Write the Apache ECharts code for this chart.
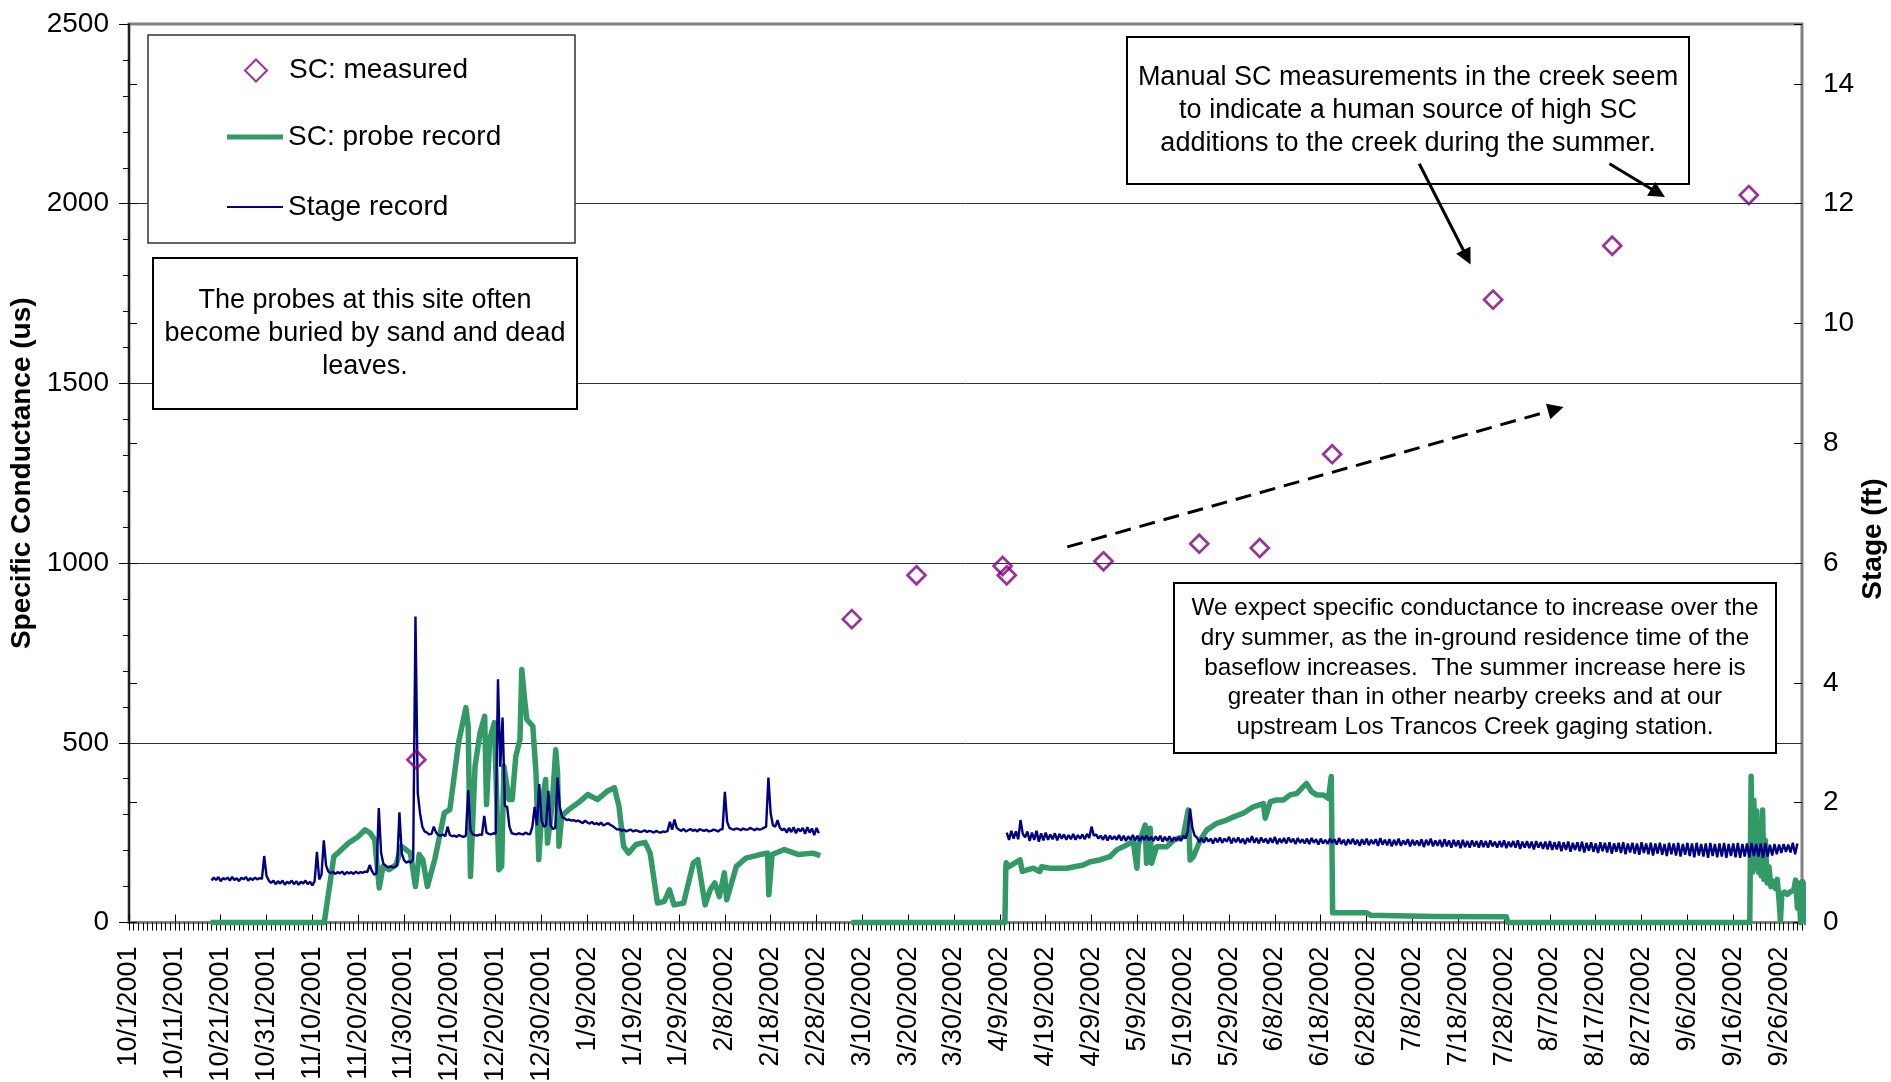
<!DOCTYPE html>
<html>
<head>
<meta charset="utf-8">
<title>Specific conductance and stage, WY2002</title>
<script src="https://cdn.jsdelivr.net/npm/echarts@6/dist/echarts.min.js"></script>
<style>
  html, body { margin: 0; padding: 0; background: #ffffff; }
  #chart { width: 1891px; height: 1082px; }
</style>
</head>
<body>
<div id="chart"></div>
<script>
// x values are days since 10/1/2001 (start of the water year)
const RECORD_START = Date.UTC(2001, 9, 1);

// Manual specific conductance measurements (us)
const measuredDays = [62.7, 157.7, 171.8, 190.6, 191.5, 212.6, 233.5, 246.7, 262.5, 297.6, 323.6, 353.4];
const measuredSC   = [453, 844, 966, 992, 966, 1005, 1054, 1042, 1303, 1733, 1883, 2024];

// Probe SC record, [day, us]; two deployments
const probeSeg1 = [
  [17.8,0],[42.6,0],[44.7,184],[45.8,196],[47.9,221],[49.9,238],[51.5,258],[52.6,249],[53.6,230],[54.6,96],
  [55.4,156],[56.7,147],[58.3,161],[59.4,212],[60.4,203],[61.4,193],[62.5,100],[63.3,189],[64.1,175],[65.1,100],
  [66.7,175],[67.9,249],[68.8,305],[70.0,314],[71.9,500],[73.5,598],[74.0,546],[74.5,128],[75.5,435],[76.6,528],
  [77.6,574],[78.0,328],[78.7,509],[79.7,556],[80.0,560],[80.7,147],[81.3,156],[81.8,435],[82.3,393],[82.9,342],
  [83.6,342],[84.4,463],[85.3,509],[85.7,704],[86.3,621],[86.8,565],[88.1,546],[88.8,416],[89.4,175],[90.2,342],
  [90.9,398],[91.3,221],[92.3,323],[93.1,481],[93.5,416],[93.8,212],[94.4,296],[95.9,314],[98.0,333],[100.1,356],
  [102.2,342],[104.3,365],[105.9,375],[106.9,323],[107.9,212],[109.0,193],[110.6,217],[112.6,223],[113.7,193],[115.3,54],
  [116.8,59],[117.9,91],[118.9,49],[121.0,54],[123.1,165],[124.1,175],[125.7,49],[126.8,91],[127.8,110],[128.8,72],
  [129.9,138],[130.4,63],[132.5,156],[134.6,179],[137.7,189],[139.3,193],[139.6,77],[140.3,189],[143.0,203],[146.1,189],
  [149.2,193],[150.8,186]
];
const probeSeg2 = [
  [157.6,0],[191.1,0],[191.3,155],[191.4,166],[191.9,155],[194.4,174],[194.9,142],[197.3,151],[198.7,142],[199.1,155],
  [200.9,151],[204.6,151],[208.2,160],[209.7,169],[211.8,174],[214.0,183],[215.5,202],[217.7,216],[219.1,225],[219.9,151],
  [220.2,216],[221.7,271],[222.0,165],[222.8,262],[223.1,165],[224.2,211],[226.4,211],[227.9,229],[230.0,239],[231.1,313],
  [231.5,174],[232.2,183],[233.7,229],[235.1,257],[237.3,276],[239.5,285],[241.0,294],[243.1,304],[245.3,322],[247.5,331],
  [247.9,290],[249.0,336],[250.4,341],[251.9,341],[253.3,355],[254.8,359],[256.2,378],[256.9,387],[258.0,364],[259.1,355],
  [260.6,355],[261.7,345],[262.3,406],[262.6,27],[270.0,27],[271.0,20],[285.0,17],[300.5,16],[300.8,0],[353.6,0],
  [353.9,407],[354.2,140],[354.5,340],[354.8,150],[355.1,310],[355.5,140],[355.8,266],[356.1,130],[356.4,313],[356.7,120],
  [357.0,229],[357.4,110],[357.8,155],[358.2,100],[358.7,115],[359.2,95],[359.6,120],[360.0,60],[360.3,5],[360.6,80],
  [361.2,85],[361.8,78],[362.5,86],[363.2,90],[363.6,118],[364.0,40],[364.3,110],[364.7,0],[365.1,115],[365.5,100],
  [365.9,0],[366.3,100],[366.7,110],[367.0,0],[367.3,100]
];

// Stage record (ft), twice-daily readings
const STAGE_STEP = 0.5;
const stageSeg1Start = 18;
const stageSeg1 = [
  .70,.75,.71,.76,.69,.74,.72,.75,.70,.76,.71,.74,.69,.75,.72,.76,.70,.74,.71,.75,.72,.74,.73,1.11,
  .78,.70,.66,.70,.64,.69,.65,.70,.63,.68,.65,.70,.64,.69,.63,.68,.65,.70,.64,.68,.62,.69,1.18,.72,
  .80,1.37,.95,.85,.82,.85,.81,.84,.82,.85,.80,.84,.82,.84,.81,.85,.82,.84,.83,.85,.84,.96,.86,.80,
  .82,1.91,1.16,.98,.95,.92,.94,.92,.93,.96,1.84,1.16,1.04,1.00,1.02,1.00,1.05,5.11,2.16,1.82,1.60,1.52,
  1.50,1.47,1.48,1.60,1.50,1.46,1.45,1.47,1.44,1.60,1.46,1.44,1.45,1.43,1.46,1.44,1.43,1.45,2.21,1.54,
  1.47,1.46,1.45,1.47,1.46,1.78,1.50,1.48,1.47,1.49,1.48,4.06,2.60,3.42,1.95,1.93,1.60,1.49,1.48,1.47,
  1.49,1.48,1.47,1.50,1.48,1.47,1.60,1.93,1.62,2.31,1.71,1.60,1.62,2.20,1.62,1.56,1.58,2.42,1.93,1.76,
  1.74,1.71,1.72,1.70,1.71,1.69,1.70,1.68,1.66,1.70,1.67,1.65,1.68,1.64,1.66,1.63,1.67,1.62,1.64,1.66,
  1.63,1.61,1.58,1.55,1.56,1.53,1.55,1.52,1.54,1.55,1.52,1.54,1.53,1.51,1.52,1.54,1.51,1.53,1.52,1.50,
  1.53,1.51,1.50,1.52,1.51,1.53,1.68,1.55,1.72,1.58,1.55,1.53,1.56,1.52,1.54,1.56,1.53,1.55,1.52,1.56,
  1.54,1.53,1.55,1.52,1.53,1.55,1.54,1.52,1.55,1.56,2.18,1.68,1.58,1.56,1.55,1.57,1.56,1.54,1.57,1.55,
  1.55,1.58,1.56,1.54,1.57,1.55,1.56,1.58,1.60,2.42,1.82,1.62,1.60,1.71,1.58,1.54,1.57,1.50,1.58,1.51,
  1.59,1.49,1.57,1.52,1.58,1.48,1.59,1.50,1.57,1.46,1.58,1.49
];
const stageSeg2Start = 191.5;
const stageSeg2 = [
  1.50,
  1.38,1.53,1.40,1.52,1.39,1.71,1.48,1.42,1.52,1.36,1.50,1.38,1.53,1.35,1.49,1.37,1.50,1.38,1.47,1.39,
  1.49,1.37,1.48,1.40,1.47,1.38,1.46,1.39,1.48,1.38,1.46,1.40,1.47,1.39,1.48,1.41,1.60,1.45,1.47,1.40,
  1.45,1.38,1.46,1.37,1.45,1.39,1.44,1.38,1.46,1.37,1.45,1.36,1.44,1.38,1.46,1.37,1.45,1.36,1.44,1.38,
  1.45,1.37,1.43,1.36,1.44,1.37,1.45,1.35,1.43,1.36,1.44,1.35,1.42,1.37,1.43,1.36,1.45,1.40,1.52,1.90,
  1.58,1.45,1.42,1.34,1.41,1.33,1.42,1.35,1.40,1.32,1.41,1.34,1.42,1.33,1.40,1.35,1.43,1.32,1.41,1.34,
  1.42,1.33,1.40,1.31,1.41,1.34,1.44,1.33,1.41,1.32,1.42,1.34,1.40,1.32,1.41,1.33,1.43,1.31,1.40,1.33,
  1.41,1.32,1.42,1.34,1.40,1.31,1.41,1.33,1.39,1.32,1.40,1.31,1.41,1.33,1.39,1.30,1.40,1.32,1.38,1.31,
  1.40,1.33,1.39,1.30,1.41,1.31,1.38,1.29,1.39,1.31,1.40,1.30,1.38,1.28,1.39,1.30,1.40,1.29,1.38,1.31,
  1.39,1.28,1.41,1.30,1.38,1.29,1.39,1.27,1.38,1.29,1.40,1.28,1.37,1.30,1.39,1.27,1.38,1.29,1.37,1.28,
  1.39,1.26,1.38,1.29,1.40,1.27,1.37,1.28,1.38,1.26,1.39,1.27,1.37,1.25,1.38,1.27,1.37,1.24,1.38,1.26,
  1.36,1.25,1.37,1.27,1.36,1.25,1.37,1.26,1.36,1.25,1.37,1.27,1.35,1.25,1.36,1.26,1.37,1.24,1.35,1.26,
  1.36,1.25,1.37,1.23,1.35,1.25,1.36,1.24,1.35,1.22,1.36,1.25,1.34,1.23,1.35,1.22,1.36,1.21,1.34,1.22,
  1.35,1.19,1.34,1.21,1.35,1.18,1.33,1.21,1.34,1.19,1.35,1.17,1.33,1.20,1.34,1.18,1.32,1.16,1.34,1.19,
  1.33,1.17,1.34,1.15,1.32,1.18,1.33,1.16,1.34,1.14,1.32,1.17,1.33,1.15,1.32,1.13,1.34,1.16,1.32,1.14,
  1.33,1.12,1.32,1.15,1.33,1.13,1.31,1.11,1.33,1.14,1.32,1.12,1.33,1.10,1.31,1.13,1.33,1.11,1.32,1.09,
  1.33,1.12,1.31,1.10,1.32,1.08,1.33,1.11,1.31,1.09,1.32,1.10,1.33,1.08,1.31,1.11,1.32,1.09,1.33,1.08,
  1.31,1.10,1.32,1.09,1.33,1.11,1.31,1.10,1.32,1.08,1.33,1.10,1.30,1.12,1.31,1.14,1.30,1.16,1.31,1.18,
  1.30,1.17,1.33,1.14,1.32
];

// Annotation arrows, [day, us] from tail to head
const trendArrow = [[204.7, 1045], [311.3, 1428]];
const noteArrowA = [[281.5, 2111], [291.9, 1851]];
const noteArrowB = [[323.0, 2111], [333.6, 2030]];

const noteProbes = 'The probes at this site often\nbecome buried by sand and dead\nleaves.';
const noteManual = 'Manual SC measurements in the creek seem\nto indicate a human source of high SC\nadditions to the creek during the summer.';
const noteSummer = 'We expect specific conductance to increase over the\ndry summer, as the in-ground residence time of the\nbaseflow increases.  The summer increase here is\ngreater than in other nearby creeks and at our\nupstream Los Trancos Creek gaging station.';

const FONT = '"Liberation Sans", Arial, Helvetica, sans-serif';
const GREEN = '#339966', NAVY = '#000080', PURPLE = '#800080';

function dayLabel(d) {
  const t = new Date(RECORD_START + Math.round(d) * 86400000);
  return (t.getUTCMonth() + 1) + '/' + t.getUTCDate() + '/' + t.getUTCFullYear();
}
function sampled(start, step, values) {
  return values.map((v, i) => [start + i * step, v]);
}
const measured = measuredDays.map((d, i) => [d, measuredSC[i]]);

const chart = echarts.init(document.getElementById('chart'), null, { renderer: 'canvas' });

const legendText = { fontSize: 28, fontFamily: FONT, color: '#000', lineHeight: 28 };
const probeLine = { type: 'line', name: 'SC: probe record', xAxisIndex: 0, yAxisIndex: 0,
  showSymbol: false, symbol: 'none', clip: false, z: 2, color: GREEN, silent: true,
  lineStyle: { color: GREEN, width: 5.5, join: 'round' } };
const stageLine = { type: 'line', name: 'Stage record', xAxisIndex: 0, yAxisIndex: 1,
  showSymbol: false, symbol: 'none', clip: false, z: 3, color: NAVY, silent: true,
  lineStyle: { color: NAVY, width: 2.4 } };

chart.setOption({
  animation: false,
  backgroundColor: '#ffffff',
  textStyle: { fontFamily: FONT },
  grid: { left: 129, right: 89, top: 24, bottom: 159.5, containLabel: false, outerBoundsMode: 'none',
    show: true, borderColor: '#808080', borderWidth: 3, backgroundColor: 'transparent' },
  legend: [
    { data: ['SC: measured'], left: 244, top: 56.5, orient: 'horizontal', padding: 0,
      itemWidth: 22, itemHeight: 22, selectedMode: false,
      textStyle: Object.assign({}, legendText, { padding: [0, 0, 0, 17] }) },
    { data: [{ name: 'SC: probe record', icon: 'rect' }], left: 227, top: 123, orient: 'horizontal', padding: 0,
      itemWidth: 56, itemHeight: 5, selectedMode: false, textStyle: legendText },
    { data: [{ name: 'Stage record', icon: 'rect' }], left: 227, top: 193, orient: 'horizontal', padding: 0,
      itemWidth: 56, itemHeight: 2, selectedMode: false, textStyle: legendText }
  ],
  xAxis: [
    { type: 'value', min: 0, max: 365, interval: 10, position: 'bottom',
      axisLine: { show: true, lineStyle: { color: '#808080', width: 3 } },
      axisTick: { show: true, inside: true, length: 8, lineStyle: { color: '#000', width: 1 } },
      axisLabel: { show: true, rotate: 90, fontSize: 27, margin: 24, color: '#000', fontFamily: FONT,
        showMaxLabel: false, formatter: dayLabel },
      splitLine: { show: false } },
    { type: 'value', min: 0, max: 365, interval: 1, position: 'bottom',
      axisLine: { show: false },
      axisTick: { show: true, inside: false, length: 8, lineStyle: { color: '#000', width: 1 } },
      axisLabel: { show: false }, splitLine: { show: false } }
  ],
  yAxis: [
    { type: 'value', min: 0, max: 2500, interval: 500, position: 'left',
      name: 'Specific Conductance (us)', nameLocation: 'middle', nameGap: 89,
      nameTextStyle: { fontSize: 28, fontWeight: 'bold', color: '#000', fontFamily: FONT },
      axisLine: { show: true, lineStyle: { color: '#000', width: 1.5 } },
      axisTick: { show: true, length: 10, lineStyle: { color: '#000', width: 1 } },
      minorTick: { show: true, splitNumber: 5, length: 6, lineStyle: { color: '#000', width: 1 } },
      axisLabel: { fontSize: 28, margin: 20, color: '#000', fontFamily: FONT, formatter: v => String(v) },
      splitLine: { show: true, showMaxLine: false, lineStyle: { color: '#303030', width: 1 } } },
    { type: 'value', min: 0, max: 15, interval: 2, position: 'right',
      axisLine: { show: false },
      axisTick: { show: true, length: 8, lineStyle: { color: '#000', width: 1 } },
      axisLabel: { fontSize: 28, margin: 21, color: '#000', fontFamily: FONT, showMaxLabel: false, formatter: v => String(v) },
      splitLine: { show: false } },
    { type: 'value', min: 0, max: 15, interval: 2, position: 'right',
      axisLine: { show: false },
      axisTick: { show: true, inside: true, length: 8, lineStyle: { color: '#000', width: 1 } },
      axisLabel: { show: false }, splitLine: { show: false } }
  ],
  series: [
    Object.assign({}, probeLine, { data: probeSeg1 }),
    Object.assign({}, probeLine, { data: probeSeg2 }),
    Object.assign({}, stageLine, { data: sampled(stageSeg1Start, STAGE_STEP, stageSeg1) }),
    Object.assign({}, stageLine, { data: sampled(stageSeg2Start, STAGE_STEP, stageSeg2) }),
    { type: 'scatter', name: 'SC: measured', xAxisIndex: 0, yAxisIndex: 0, z: 4, silent: true,
      symbol: 'diamond', symbolSize: 18, color: PURPLE,
      itemStyle: { color: 'rgba(255,255,255,0)', borderColor: PURPLE, borderWidth: 2.7 },
      data: measured },
    { type: 'lines', coordinateSystem: 'cartesian2d', xAxisIndex: 0, yAxisIndex: 0, z: 20, silent: true,
      symbol: ['none', 'triangle'], symbolSize: [12, 16],
      lineStyle: { color: '#000', width: 3, opacity: 1, curveness: 0 },
      data: [
        { coords: trendArrow, lineStyle: { type: [16, 9] } },
        { coords: noteArrowA },
        { coords: noteArrowB }
      ] }
  ],
  graphic: [
    { type: 'rect', z: 1, silent: true, shape: { x: 148, y: 35, width: 427, height: 208 },
      style: { fill: '#fff', stroke: '#333', lineWidth: 1.5 } },
    { type: 'rect', z: 10, silent: true, shape: { x: 153, y: 258, width: 424, height: 151 },
      style: { fill: '#fff', stroke: '#000', lineWidth: 2 } },
    { type: 'text', z: 11, silent: true, x: 365, y: 333.5,
      style: { text: noteProbes, fill: '#000', font: '27px ' + FONT, align: 'center', verticalAlign: 'middle', lineHeight: 33 } },
    { type: 'rect', z: 10, silent: true, shape: { x: 1127, y: 37, width: 562, height: 147 },
      style: { fill: '#fff', stroke: '#000', lineWidth: 2 } },
    { type: 'text', z: 11, silent: true, x: 1408, y: 111,
      style: { text: noteManual, fill: '#000', font: '27px ' + FONT, align: 'center', verticalAlign: 'middle', lineHeight: 33 } },
    { type: 'rect', z: 10, silent: true, shape: { x: 1174, y: 583, width: 602, height: 170 },
      style: { fill: '#fff', stroke: '#000', lineWidth: 2 } },
    { type: 'text', z: 11, silent: true, x: 1475, y: 668,
      style: { text: noteSummer, fill: '#000', font: '24.3px ' + FONT, align: 'center', verticalAlign: 'middle', lineHeight: 29.6 } },
    { type: 'text', z: 11, silent: true, x: 1873, y: 539, rotation: Math.PI / 2,
      style: { text: 'Stage (ft)', fill: '#000', font: 'bold 28px ' + FONT, align: 'center', verticalAlign: 'middle' } }
  ]
});
</script>
</body>
</html>
